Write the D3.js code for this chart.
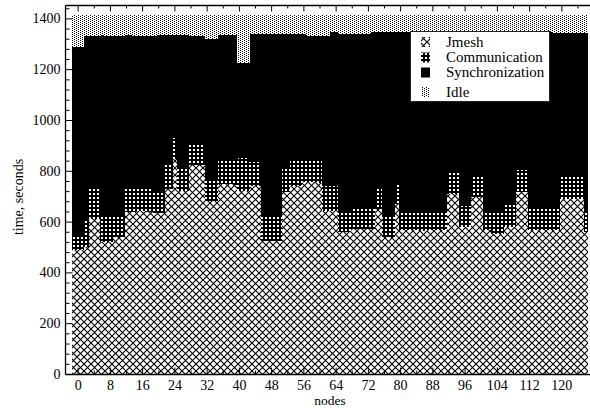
<!DOCTYPE html>
<html>
<head>
<meta charset="utf-8">
<script src="https://cdn.jsdelivr.net/npm/d3@7"></script>
<style>
  body { margin: 0; background: #fff; }
  svg { display: block; font-family: "Liberation Serif", "Times New Roman", serif; }
</style>
</head>
<body>
<div id="app"></div>
<script>
// seconds per node (node 0 .. 127)
const layers = ['Jmesh', 'Communication', 'Synchronization', 'Idle']

const jmesh = [
  490,490,490,500,612,612,612,519,519,519,538,538,538,638,638,638,
  640,640,636,636,632,632,632,728,728,845,722,722,722,822,822,822,
  822,682,682,682,748,748,750,748,746,719,719,719,741,741,741,525,
  525,525,525,525,715,715,741,741,741,754,754,756,754,752,643,643,
  643,643,558,558,558,571,571,571,571,571,571,650,650,538,538,538,
  670,565,565,565,565,565,563,563,565,565,565,565,565,708,708,708,
  578,578,578,695,695,695,565,565,553,553,553,578,578,578,715,715,
  715,567,567,567,567,567,567,567,567,689,689,689,689,689,689,558
]
const communication = [
  50,50,50,108,116,116,116,108,108,108,85,85,85,92,92,92,
  90,90,94,94,89,89,89,94,94,85,87,87,87,86,86,86,
  86,79,79,79,89,89,87,89,91,133,133,133,92,92,92,98,
  98,98,98,98,98,98,96,96,96,92,92,90,92,94,97,97,
  97,97,79,79,79,79,79,79,79,79,79,85,85,85,85,85,
  78,76,76,76,76,76,78,78,76,76,76,76,76,85,85,85,
  85,85,85,85,85,85,78,78,90,90,90,91,91,91,87,87,
  87,83,83,83,83,83,83,83,83,91,91,91,91,91,91,85
]
const synchronization = [
  748,748,748,724,604,604,604,709,702,702,706,706,706,606,606,599,
  599,599,599,599,608,612,612,511,511,403,524,524,524,421,421,421,
  421,558,558,558,496,496,496,496,496,373,373,373,507,507,507,717,
  717,717,717,717,527,524,500,500,500,494,483,483,483,483,589,589,
  605,605,703,703,703,690,690,690,690,690,695,610,610,722,722,722,
  597,704,704,704,705,705,705,705,705,705,705,705,705,553,553,553,
  683,683,683,566,566,566,703,703,703,703,703,677,677,677,544,544,
  544,696,696,696,696,696,696,692,692,562,562,562,562,562,562,699
]
const idle = [
  124,124,124,80,80,80,80,76,83,83,83,83,83,76,76,83,
  83,83,83,83,83,79,79,79,79,79,79,79,79,83,83,83,
  83,93,93,93,79,79,79,79,79,187,187,187,72,72,72,72,
  72,72,72,72,72,75,75,75,75,72,83,83,83,83,83,83,
  67,67,72,72,72,72,72,72,72,72,67,67,67,67,67,67,
  67,67,67,67,66,66,66,66,66,66,66,66,66,66,66,66,
  66,66,66,66,66,66,66,66,66,66,66,66,66,66,66,66,
  66,66,66,66,66,66,66,70,70,70,70,70,70,70,70,70
]

const xTicks = [0, 8, 16, 24, 32, 40, 48, 56, 64, 72, 80, 88, 96, 104, 112, 120]
const xMinorTicks = [4, 12, 20, 28, 36, 44, 52, 60, 68, 76, 84, 92, 100, 108, 116, 124]
const yTicks = [0, 200, 400, 600, 800, 1000, 1200, 1400]

const table = jmesh.map((v, i) => ({
    node: i,
    Jmesh: v,
    Communication: communication[i],
    Synchronization: synchronization[i],
    Idle: idle[i]
}))
const series = d3.stack().keys(layers)(table)

const width = 590
const height = 408
const frameLeft = 65.5
const frameTop = 5.5
const frameBottom = 374.5
const fontFamily = '"Liberation Serif", "Times New Roman", serif'

const x = d3.scaleLinear().domain([-1.4, 127.6]).range([72, 592])
const y = d3.scaleLinear().domain([0, 1450]).range([374, 5.7])

const svg = d3.select('#app').append('svg')
    .attr('width', width)
    .attr('height', height)
    .attr('viewBox', [0, 0, width, height])

// fill patterns
const defs = svg.append('defs')
const pJ = defs.append('pattern').attr('id', 'pat-jmesh')
    .attr('patternUnits', 'userSpaceOnUse').attr('width', 7).attr('height', 7)
pJ.append('rect').attr('width', 7).attr('height', 7).attr('fill', '#fff')
pJ.append('path').attr('d', 'M-1,-1L8,8M8,-1L-1,8')
    .attr('stroke', '#000').attr('stroke-width', 1.1)

const pC = defs.append('pattern').attr('id', 'pat-comm')
    .attr('patternUnits', 'userSpaceOnUse').attr('width', 4).attr('height', 4)
pC.append('rect').attr('width', 4).attr('height', 4).attr('fill', '#000')
pC.append('rect').attr('x', 1).attr('y', 1).attr('width', 2).attr('height', 2).attr('fill', '#fff')

const pI = defs.append('pattern').attr('id', 'pat-idle')
    .attr('patternUnits', 'userSpaceOnUse').attr('width', 4).attr('height', 2)
pI.append('rect').attr('width', 4).attr('height', 2).attr('fill', '#fff')
pI.append('rect').attr('x', 0).attr('y', 0).attr('width', 1).attr('height', 1).attr('fill', '#000')
pI.append('rect').attr('x', 2).attr('y', 1).attr('width', 1).attr('height', 1).attr('fill', '#000')

const fills = {
    Jmesh: 'url(#pat-jmesh)',
    Communication: 'url(#pat-comm)',
    Synchronization: '#000',
    Idle: 'url(#pat-idle)'
}

defs.append('clipPath').attr('id', 'plot-clip')
    .append('rect').attr('x', frameLeft).attr('y', frameTop)
    .attr('width', width - frameLeft).attr('height', frameBottom - frameTop)

// stacked bars
const bw = x(1) - x(0)
svg.append('g').attr('clip-path', 'url(#plot-clip)')
    .selectAll('g')
    .data(series).join('g')
    .attr('fill', d => fills[d.key])
    .selectAll('rect')
    .data(d => d).join('rect')
    .attr('shape-rendering', 'crispEdges')
    .attr('x', d => x(d.data.node - 1.4))
    .attr('width', bw + 0.4)
    .attr('y', d => y(d[1]))
    .attr('height', d => y(d[0]) - y(d[1]))

// axes, ticks point inward
function styleAxis(g){
    g.select('.domain').remove()
    g.attr('font-family', fontFamily).attr('font-size', 14)
    g.selectAll('line').attr('stroke', '#000')
    g.selectAll('text').attr('fill', '#000')
}
const fmt = d => String(d)
svg.append('g').attr('transform', `translate(0,${frameBottom})`)
    .call(d3.axisBottom(x).tickValues(xTicks).tickFormat(fmt).tickSize(-7).tickPadding(6)).call(styleAxis)
svg.append('g').attr('transform', `translate(0,${frameBottom})`)
    .call(d3.axisBottom(x).tickValues(xMinorTicks).tickSize(-4).tickFormat('')).call(styleAxis)
svg.append('g').attr('transform', `translate(0,${frameTop})`)
    .call(d3.axisTop(x).tickValues(xTicks).tickSize(-6).tickFormat('')).call(styleAxis)
svg.append('g').attr('transform', `translate(0,${frameTop})`)
    .call(d3.axisTop(x).tickValues(xMinorTicks).tickSize(-3).tickFormat('')).call(styleAxis)

const yMinorTicks = d3.range(0, 1441, 40).filter(v => v % 200 !== 0)
svg.append('g').attr('transform', `translate(${frameLeft},0)`)
    .call(d3.axisLeft(y).tickValues(yTicks).tickFormat(fmt).tickSize(-7).tickPadding(5)).call(styleAxis)
svg.append('g').attr('transform', `translate(${frameLeft},0)`)
    .call(d3.axisLeft(y).tickValues(yMinorTicks).tickSize(-4).tickFormat('')).call(styleAxis)

// frame
const frame = svg.append('g').attr('stroke', '#000').attr('stroke-width', 1.3)
frame.append('line').attr('x1', frameLeft).attr('x2', frameLeft).attr('y1', frameTop).attr('y2', frameBottom)
frame.append('line').attr('x1', frameLeft).attr('x2', width).attr('y1', frameTop).attr('y2', frameTop)
frame.append('line').attr('x1', frameLeft).attr('x2', width).attr('y1', frameBottom).attr('y2', frameBottom)

// axis titles
svg.append('text').text('nodes')
    .attr('x', 330).attr('y', 404.5).attr('text-anchor', 'middle')
    .attr('font-family', fontFamily).attr('font-size', 13.5)
svg.append('text').text('time, seconds')
    .attr('transform', 'translate(23,197) rotate(-90)')
    .attr('text-anchor', 'middle')
    .attr('font-family', fontFamily).attr('font-size', 14)

// legend
const legend = svg.append('g').attr('font-family', fontFamily)
legend.append('rect').attr('x', 410.5).attr('y', 31.5).attr('width', 139).attr('height', 70)
    .attr('fill', '#fff').attr('stroke', '#222').attr('stroke-width', 1)
const legendBase = [46.5, 62, 77, 96.5]
const items = legend.selectAll('g.item').data(layers).join('g').attr('class', 'item')
items.append('rect')
    .attr('x', 421).attr('y', (d, i) => legendBase[i] - 9.5)
    .attr('width', 9).attr('height', 10)
    .attr('fill', d => fills[d])
items.append('text').text(d => d)
    .attr('x', 446).attr('y', (d, i) => legendBase[i])
    .attr('font-size', 15)
</script>
</body>
</html>
